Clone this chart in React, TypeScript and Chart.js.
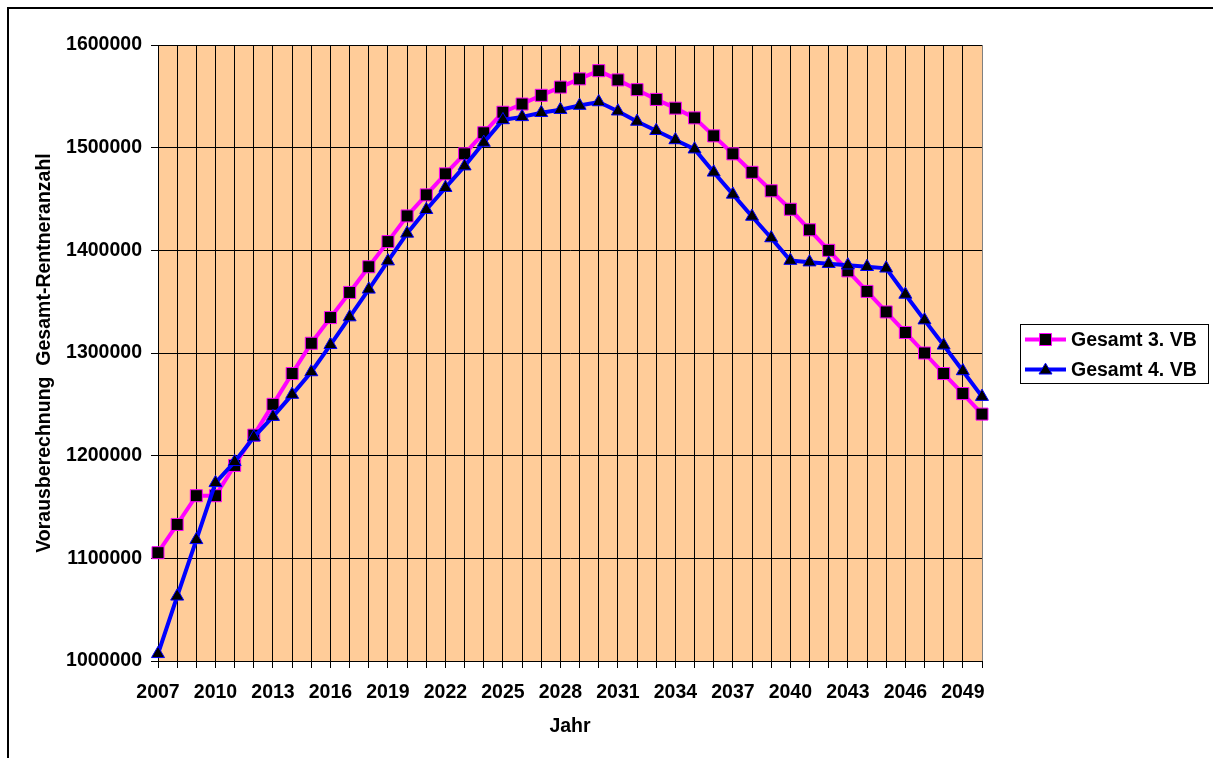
import React, { useEffect, useRef } from 'react';
import { Chart, registerables } from 'chart.js';

Chart.register(...registerables);

// ---------- data ----------
const years = [
  2007, 2008, 2009, 2010, 2011, 2012, 2013, 2014, 2015, 2016, 2017,
  2018, 2019, 2020, 2021, 2022, 2023, 2024, 2025, 2026, 2027, 2028,
  2029, 2030, 2031, 2032, 2033, 2034, 2035, 2036, 2037, 2038, 2039,
  2040, 2041, 2042, 2043, 2044, 2045, 2046, 2047, 2048, 2049, 2050,
];

const xTickLabels = [
  '2007', '2010', '2013', '2016', '2019', '2022', '2025', '2028',
  '2031', '2034', '2037', '2040', '2043', '2046', '2049',
];

const yMin = 1000000;
const yMax = 1600000;
const yStep = 100000;

const series3Name = 'Gesamt 3. VB';
const series3 = [
  1105500, 1133000, 1161000, 1161000, 1190500, 1220000, 1250000, 1280000,
  1309500, 1334500, 1359000, 1384000, 1408500, 1433500, 1454000, 1474500,
  1494000, 1514500, 1534500, 1542500, 1551000, 1559000, 1567000, 1575000,
  1566000, 1556500, 1547000, 1538500, 1529000, 1511500, 1494000, 1476000,
  1458000, 1440000, 1420000, 1400000, 1380000, 1360000, 1340000, 1320000,
  1300000, 1280000, 1260500, 1240500,
];

const series4Name = 'Gesamt 4. VB';
const series4 = [
  1007000, 1063000, 1118000, 1173500, 1194000, 1218000, 1238000, 1259500,
  1281500, 1308000, 1335000, 1362000, 1389500, 1416500, 1439500, 1461000,
  1482000, 1505000, 1527000, 1530000, 1534000, 1537000, 1541000, 1544500,
  1535500, 1525500, 1516500, 1507500, 1498500, 1476000, 1454500, 1433000,
  1412000, 1390000, 1388500, 1387000, 1385500, 1384000, 1382500, 1357000,
  1332000, 1307500, 1282500, 1257500,
];

const xTitle = 'Jahr';
const yTitle = 'Vorausberechnung  Gesamt-Rentneranzahl';

// ---------- styling ----------
const FONT = "'Liberation Sans', Arial, Helvetica, sans-serif";
const FS = 19.5;
const W = 1213;
const H = 758;
const MAGENTA = '#FF00FF';
const BLUE = '#0000FF';
const LINE_W = 4;

const plotBg = {
  id: 'plotBg',
  beforeDraw(chart: any) {
    const { ctx, chartArea: a } = chart;
    ctx.save();
    ctx.fillStyle = '#FFCC99';
    ctx.fillRect(a.left, a.top, a.right - a.left, a.bottom - a.top);
    ctx.restore();
  },
};

function drawMarker(ctx: CanvasRenderingContext2D, style: string, x: number, y: number, fill: string, stroke: string) {
  ctx.save();
  ctx.fillStyle = fill;
  ctx.strokeStyle = stroke;
  ctx.lineWidth = 1;
  ctx.beginPath();
  if (style === 'rect') {
    const s = 6;
    ctx.rect(x - s, y - s, 2 * s, 2 * s);
  } else {
    const r = 7.5;
    ctx.moveTo(x, y - r * 0.85);
    ctx.lineTo(x + r * 0.866, y + r * 0.6);
    ctx.lineTo(x - r * 0.866, y + r * 0.6);
    ctx.closePath();
  }
  ctx.fill();
  ctx.stroke();
  ctx.restore();
}

const customLegend = {
  id: 'customLegend',
  afterDraw(chart: any) {
    const { ctx } = chart;
    const bx = 1020.5, by = 324.5, bw = 188, bh = 59;
    ctx.save();
    ctx.strokeStyle = '#000';
    ctx.lineWidth = 1;
    ctx.strokeRect(bx, by, bw, bh);
    const items = chart.data.datasets;
    const rows = [339.5, 369.5];
    items.forEach((ds: any, i: number) => {
      const y = rows[i];
      ctx.strokeStyle = ds.borderColor;
      ctx.lineWidth = LINE_W;
      ctx.beginPath();
      ctx.moveTo(1025, y);
      ctx.lineTo(1066, y);
      ctx.stroke();
      drawMarker(ctx, ds.pointStyle, 1045.5, y, ds.pointBackgroundColor, ds.pointBorderColor);
      ctx.fillStyle = '#000';
      ctx.font = `bold ${FS}px ${FONT}`;
      ctx.textAlign = 'left';
      ctx.textBaseline = 'middle';
      ctx.fillText(ds.label, 1071, y + 1);
    });
    ctx.restore();
  },
};

export default function App() {
  const ref = useRef<HTMLCanvasElement | null>(null);

  useEffect(() => {
    if (!ref.current) return;
    const chart = new Chart(ref.current, {
      type: 'line',
      data: {
        labels: years.map(String),
        datasets: [
          {
            label: series3Name,
            data: series3,
            borderColor: MAGENTA,
            backgroundColor: MAGENTA,
            borderWidth: LINE_W,
            pointStyle: 'rect',
            pointRadius: 8.5,
            pointHoverRadius: 8.5,
            pointBackgroundColor: '#000',
            pointBorderColor: MAGENTA,
            pointBorderWidth: 1,
            tension: 0,
            clip: false,
            order: 1,
          } as any,
          {
            label: series4Name,
            data: series4,
            borderColor: BLUE,
            backgroundColor: BLUE,
            borderWidth: LINE_W,
            pointStyle: 'triangle',
            pointRadius: 7.5,
            pointHoverRadius: 7.5,
            pointBackgroundColor: '#000',
            pointBorderColor: BLUE,
            pointBorderWidth: 1,
            tension: 0,
            clip: false,
            order: 0,
          } as any,
        ],
      },
      options: {
        responsive: false,
        animation: false,
        events: [],
        layout: { padding: { left: 0, top: 45, right: W - 982, bottom: 0 } },
        plugins: {
          legend: { display: false },
          tooltip: { enabled: false },
        },
        scales: {
          x: {
            type: 'category',
            offset: false,
            grid: {
              display: true,
              color: (c: any) => (c.index === years.length - 1 ? '#808080' : '#000'),
              lineWidth: 1,
              drawTicks: true,
              tickLength: 7,
              tickColor: '#000',
            },
            border: { display: true, color: '#000', width: 1 },
            ticks: {
              autoSkip: false,
              maxRotation: 0,
              minRotation: 0,
              padding: 13,
              color: '#000',
              font: { family: FONT, size: FS, weight: 'bold' },
              callback: function (this: any, _v: any, idx: number) {
                const lab = String(years[idx]);
                return xTickLabels.includes(lab) ? lab : '';
              },
            },
            title: {
              display: true,
              text: xTitle,
              color: '#000',
              font: { family: FONT, size: FS, weight: 'bold' },
              padding: { top: 0, bottom: 20 },
            },
            afterFit: (scale: any) => {
              scale.height = 97;
            },
          },
          y: {
            type: 'linear',
            min: yMin,
            max: yMax,
            grid: {
              color: '#000',
              lineWidth: 1,
              drawTicks: true,
              tickLength: 7,
              tickColor: '#000',
            },
            border: { display: true, color: '#000', width: 1 },
            ticks: {
              stepSize: yStep,
              padding: 9,
              color: '#000',
              font: { family: FONT, size: FS, weight: 'bold' },
              callback: (v: any) => String(v),
            },
            title: {
              display: true,
              text: yTitle,
              color: '#000',
              font: { family: FONT, size: FS, weight: 'bold' },
              padding: { top: 33, bottom: 0 },
            },
            afterFit: (scale: any) => {
              scale.width = 158;
            },
          },
        },
      } as any,
      plugins: [plotBg, customLegend],
    });
    return () => chart.destroy();
  }, []);

  return (
    <div
      style={{
        position: 'fixed',
        left: 0,
        top: 0,
        width: W,
        height: H,
        overflow: 'hidden',
        background: '#fff',
      }}
    >
      <div
        style={{
          position: 'absolute',
          left: 7,
          top: 7,
          width: 1400,
          height: 1000,
          border: '2px solid #000',
          boxSizing: 'border-box',
        }}
      />
      <canvas
        ref={ref}
        width={W}
        height={H}
        style={{ position: 'absolute', left: 0, top: 0, width: W, height: H }}
      />
    </div>
  );
}
